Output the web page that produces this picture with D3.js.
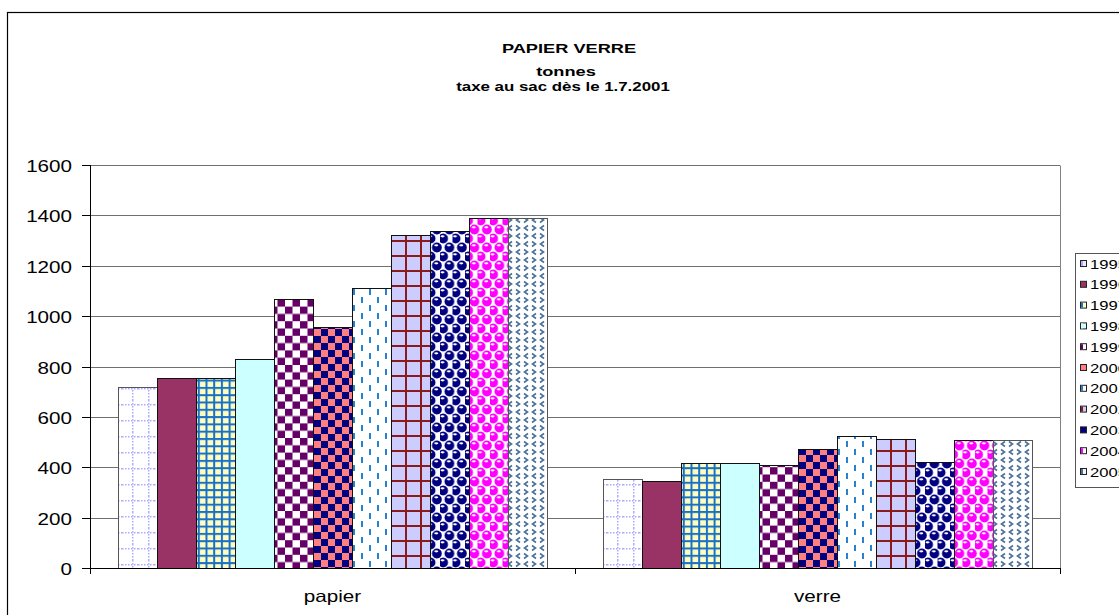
<!DOCTYPE html>
<html>
<head>
<meta charset="utf-8">
<script src="https://cdn.jsdelivr.net/npm/d3@7"></script>
<style>
  body { margin: 0; background: #fff; }
  svg { display: block; font-family: Arial, "Liberation Sans", sans-serif; }
</style>
</head>
<body>
<svg id="chart" width="1119" height="615"></svg>
<script>
// data (tonnes)
const categories = ["papier", "verre"];
const years = ["1995", "1996", "1997", "1998", "1999", "2000", "2001", "2002", "2003", "2004", "2005"];
const papier = [720, 755, 755, 830, 1068, 958, 1113, 1321, 1338, 1390, 1390];
const verre = [352, 345, 418, 418, 408, 471, 525, 511, 420, 507, 507];
const yTicks = [0, 200, 400, 600, 800, 1000, 1200, 1400, 1600];
const titleLines = ["PAPIER VERRE", "tonnes", "taxe au sac dès le 1.7.2001"];

const svg = d3.select("#chart");

const plot = { left: 90, right: 1060, top: 165, bottom: 568 };

const y = d3.scaleLinear().domain([0, 1600]).range([plot.bottom, plot.top]);
const x0 = d3.scaleBand().domain(categories).range([plot.left, plot.right]);
const x1 = d3.scaleBand().domain(years).range([28, x0.bandwidth() - 28]);

/** fill patterns, one per year */
const defs = svg.append("defs");
function pat(id, w, h, bg) {
    const p = defs.append("pattern")
        .attr("id", id)
        .attr("patternUnits", "userSpaceOnUse")
        .attr("width", w)
        .attr("height", h);
    p.append("rect").attr("width", w).attr("height", h).attr("fill", bg);
    return p;
}

// 1995 dotted lavender grid
let p = pat("p1995", 16, 16, "#fff");
for (let i = 0; i < 16; i += 3) {
    p.append("rect").attr("x", 10).attr("y", i).attr("width", 1.5).attr("height", 1.5).attr("fill", "#aaaaff");
    p.append("rect").attr("x", i).attr("y", 4).attr("width", 1.5).attr("height", 1.5).attr("fill", "#aaaaff");
}
// 1997 yellow with blue grid
p = pat("p1997", 7.7, 7.3, "#ffffc0");
p.append("rect").attr("x", 0).attr("y", 0).attr("width", 2).attr("height", 7.3).attr("fill", "#1a70c8");
p.append("rect").attr("x", 0).attr("y", 0).attr("width", 7.7).attr("height", 2).attr("fill", "#1a70c8");
// 1999 purple checker
p = pat("p1999", 15, 14.6, "#fff");
p.append("rect").attr("x", 0).attr("y", 0).attr("width", 7.5).attr("height", 7.3).attr("fill", "#660066");
p.append("rect").attr("x", 7.5).attr("y", 7.3).attr("width", 7.5).attr("height", 7.3).attr("fill", "#660066");
// 2000 salmon / navy checker
p = pat("p2000", 14, 14, "#ff8080");
p.append("rect").attr("x", 0).attr("y", 0).attr("width", 7).attr("height", 7).attr("fill", "#000080");
p.append("rect").attr("x", 7).attr("y", 7).attr("width", 7).attr("height", 7).attr("fill", "#000080");
// 2001 blue dashes
p = pat("p2001", 16, 16, "#fff");
p.append("rect").attr("x", 7).attr("y", 1).attr("width", 2).attr("height", 6).attr("fill", "#2a80d0");
p.append("rect").attr("x", 15).attr("y", 9).attr("width", 2).attr("height", 6).attr("fill", "#2a80d0");
p.append("rect").attr("x", -1).attr("y", 9).attr("width", 2).attr("height", 6).attr("fill", "#2a80d0");
// 2002 lavender with maroon grid
p = pat("p2002", 15, 15, "#ccccff");
p.append("rect").attr("x", 0).attr("y", 0).attr("width", 2).attr("height", 15).attr("fill", "#8b1a1a");
p.append("rect").attr("x", 0).attr("y", 0).attr("width", 15).attr("height", 2).attr("fill", "#8b1a1a");
// 2003 / 2004 spheres
function spheres(id, col) {
    const s = pat(id, 12.5, 18, "#fff");
    [[3.1, 4.5], [9.4, 13.5], [-3.1, 13.5], [15.6, 13.5], [3.1, 22.5], [9.4, -4.5]].forEach(c => {
        s.append("circle").attr("cx", c[0]).attr("cy", c[1]).attr("r", 4.9).attr("fill", col);
        s.append("ellipse").attr("cx", c[0] - 0.6).attr("cy", c[1] - 2.2).attr("rx", 2).attr("ry", 1.1).attr("fill", "#fff");
    });
}
spheres("p2003", "#000080");
spheres("p2004", "#ff00ff");
// 2005 chevrons
p = pat("p2005", 16, 16, "#fff");
const chev = (g, cx, cy, dir) => g.append("path")
    .attr("d", dir < 0 ? `M${cx + 2},${cy - 2.5}L${cx - 1.5},${cy}L${cx + 2},${cy + 2.5}`
                       : `M${cx - 2},${cy - 2.5}L${cx + 1.5},${cy}L${cx - 2},${cy + 2.5}`)
    .attr("fill", "none").attr("stroke", "#4a6f98").attr("stroke-width", 1.6);
chev(p, 4, 4, -1);
chev(p, 12, 4, 1);
chev(p, 4, 12, 1);
chev(p, 12, 12, -1);

const fills = {
    "1995": "url(#p1995)", "1996": "#993366", "1997": "url(#p1997)", "1998": "#ccffff",
    "1999": "url(#p1999)", "2000": "url(#p2000)", "2001": "url(#p2001)", "2002": "url(#p2002)",
    "2003": "url(#p2003)", "2004": "url(#p2004)", "2005": "url(#p2005)"
};
// tiny legend keys: base colour plus the accent that shows at that size
const keyBase = ["#e8e8ff", "#993366", "#ffffc0", "#ccffff", "#fff", "#ff8080", "#fff", "#ccccff", "#000080", "#fff", "#f4f4f4"];
const keyAccent = ["#aaaaff", "#993366", "#1a70c8", "#ccffff", "#660066", "#ff8080", "#2a80d0", "#8b1a1a", "#000080", "#ff00ff", "#4a6f98"];

// stretched text helper
function label(g, str, x, yy, size, anchor, bold, sx) {
    g.append("text")
        .attr("transform", `translate(${x},${yy}) scale(${sx},1)`)
        .attr("text-anchor", anchor)
        .attr("font-size", size)
        .attr("font-weight", bold ? "bold" : null)
        .attr("fill", "#000")
        .text(str);
}

// outer chart border
svg.append("rect")
    .attr("x", 7.5).attr("y", 12.5).attr("width", 1200).attr("height", 700)
    .attr("fill", "none").attr("stroke", "#000").attr("stroke-width", 1.2);

// title
[[titleLines[0], 569, 52.5, 13.5, 1.35], [titleLines[1], 566, 75.5, 13.5, 1.35], [titleLines[2], 563, 90.5, 12.5, 1.35]].forEach(t => {
    label(svg, t[0], t[1], t[2], t[3], "middle", true, t[4]);
});

// gridlines + plot border
const grid = svg.append("g");
grid.selectAll("line")
    .data(yTicks.filter(d => d > 0))
    .join("line")
    .attr("x1", plot.left).attr("x2", plot.right)
    .attr("y1", d => Math.round(y(d)) + 0.5).attr("y2", d => Math.round(y(d)) + 0.5)
    .attr("stroke", "#707070");
grid.append("line")
    .attr("x1", plot.right + 0.5).attr("x2", plot.right + 0.5)
    .attr("y1", plot.top + 0.5).attr("y2", plot.bottom)
    .attr("stroke", "#808080");

// bars
const groups = svg.append("g")
    .selectAll("g")
    .data(categories)
    .join("g")
    .attr("transform", d => `translate(${x0(d)},0)`);

groups.selectAll("rect")
    .data((c, ci) => years.map((yr, i) => ({ year: yr, value: ci === 0 ? papier[i] : verre[i] })))
    .join("rect")
    .attr("x", d => Math.round(x1(d.year)) + 0.5)
    .attr("y", d => Math.round(y(d.value)) + 0.5)
    .attr("width", Math.round(x1.bandwidth()))
    .attr("height", d => plot.bottom - Math.round(y(d.value)))
    .attr("fill", d => fills[d.year])
    .attr("stroke", d => (d.year === "1995" || d.year === "2005") ? "#555" : "#111")
    .attr("stroke-width", 1);

// y axis
const yAxis = svg.append("g");
yAxis.append("line")
    .attr("x1", plot.left + 0.5).attr("x2", plot.left + 0.5)
    .attr("y1", plot.top).attr("y2", plot.bottom)
    .attr("stroke", "#000");
yTicks.forEach(t => {
    const yy = Math.round(y(t)) + 0.5;
    yAxis.append("line").attr("x1", 82).attr("x2", plot.left).attr("y1", yy).attr("y2", yy).attr("stroke", "#000");
    label(yAxis, t, 72, yy + 6, 16.5, "end", false, 1.25);
});

// x axis
const xAxis = svg.append("g");
xAxis.append("line")
    .attr("x1", plot.left).attr("x2", plot.right + 1)
    .attr("y1", plot.bottom + 0.5).attr("y2", plot.bottom + 0.5)
    .attr("stroke", "#000");
[plot.left, plot.left + x0.bandwidth(), plot.right].forEach(xx => {
    xAxis.append("line").attr("x1", xx + 0.5).attr("x2", xx + 0.5)
        .attr("y1", plot.bottom).attr("y2", plot.bottom + 6).attr("stroke", "#000");
});
categories.forEach(c => {
    label(xAxis, c, x0(c) + x0.bandwidth() / 2, 602, 16.5, "middle", false, 1.25);
});

// legend
const legend = svg.append("g");
legend.append("rect")
    .attr("x", 1075.5).attr("y", 253.5).attr("width", 80).attr("height", 234)
    .attr("fill", "#fff").attr("stroke", "#555");
years.forEach((yr, i) => {
    const cy = 264 + i * 20.8;
    legend.append("rect")
        .attr("x", 1080.5).attr("y", cy - 3.5).attr("width", 6).attr("height", 6)
        .attr("fill", keyBase[i]).attr("stroke", "#222").attr("stroke-width", 1);
    legend.append("rect")
        .attr("x", 1081).attr("y", cy - 3).attr("width", 2).attr("height", 5)
        .attr("fill", keyAccent[i]);
    label(legend, yr, 1090, cy + 4.5, 12.5, "start", false, 1.33);
});
</script>
</body>
</html>
